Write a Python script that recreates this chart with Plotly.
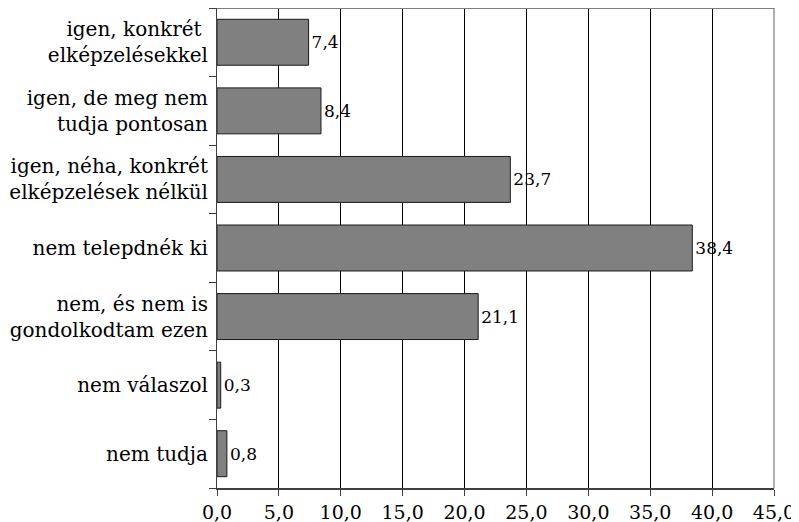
import plotly.graph_objects as go

categories = [
    "igen, konkrét <br>elképzelésekkel",
    "igen, de meg nem<br>tudja pontosan",
    "igen, néha, konkrét<br>elképzelések nélkül",
    "nem telepdnék ki",
    "nem, és nem is<br>gondolkodtam ezen",
    "nem válaszol",
    "nem tudja",
]
values = [7.4, 8.4, 23.7, 38.4, 21.1, 0.3, 0.8]
value_labels = [f"{v:.1f}".replace(".", ",") for v in values]
tick_vals = [0, 5, 10, 15, 20, 25, 30, 35, 40, 45]

FONT = "DejaVu Serif"

fig = go.Figure(
    go.Bar(
        x=values,
        y=categories,
        orientation="h",
        marker=dict(color="#808080", line=dict(color="#1a1a1a", width=1)),
        text=value_labels,
        textposition="outside",
        textfont=dict(family=FONT, size=17, color="black"),
        cliponaxis=False,
    )
)

fig.update_layout(
    width=791,
    height=514,
    margin=dict(l=209, r=25, t=0, b=34, autoexpand=False),
    plot_bgcolor="white",
    paper_bgcolor="white",
    font=dict(family=FONT, size=19, color="black"),
    separators=", ",
    showlegend=False,
    bargap=0.33,
)

fig.update_xaxes(
    range=[0, 45],
    tickvals=tick_vals,
    tickformat=".1f",
    showgrid=True,
    gridcolor="black",
    gridwidth=1,
    zeroline=False,
    showline=True,
    linecolor="#404040",
    linewidth=2,
    ticks="outside",
    ticklen=6,
    tickcolor="#404040",
    tickfont=dict(family=FONT, size=19, color="black"),
    automargin=False,
)

fig.update_yaxes(
    categoryorder="array",
    categoryarray=categories[::-1],
    autorange=False,
    range=[-0.5, len(categories) - 0.5],
    showline=True,
    linecolor="#404040",
    linewidth=1,
    ticks="outside",
    tickson="boundaries",
    ticklen=7,
    tickcolor="#404040",
    showgrid=False,
    tickfont=dict(family=FONT, size=20, color="black"),
    ticklabelstandoff=4,
    automargin=False,
)

fig.add_shape(type="line", xref="paper", yref="paper", x0=0, x1=1, y0=1, y1=1,
              line=dict(color="#808080", width=2))
fig.add_shape(type="line", xref="paper", yref="paper", x0=1, x1=1, y0=0, y1=1,
              line=dict(color="#606060", width=1))

fig.write_html("out.html")
